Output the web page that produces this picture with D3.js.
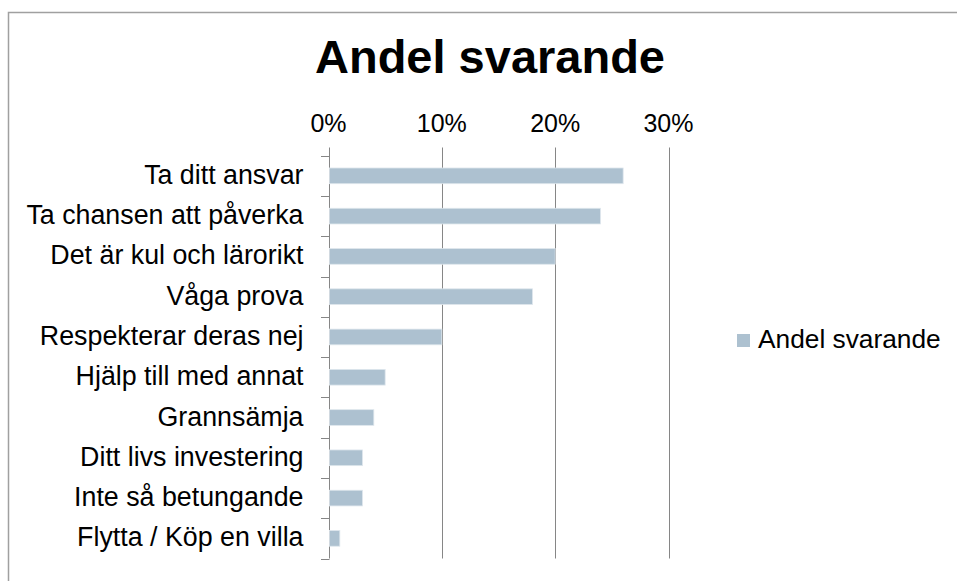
<!DOCTYPE html>
<html>
<head>
<meta charset="utf-8">
<script src="https://cdn.jsdelivr.net/npm/d3@7"></script>
<style>
  body { margin: 0; background: #fff; }
  svg { font-family: "Liberation Sans", Arial, sans-serif; }
</style>
</head>
<body>
<svg id="chart" width="957" height="581"></svg>
<script>
const categories = [
    "Ta ditt ansvar",
    "Ta chansen att påverka",
    "Det är kul och lärorikt",
    "Våga prova",
    "Respekterar deras nej",
    "Hjälp till med annat",
    "Grannsämja",
    "Ditt livs investering",
    "Inte så betungande",
    "Flytta / Köp en villa"
]
const values = [0.26, 0.24, 0.20, 0.18, 0.10, 0.05, 0.04, 0.03, 0.03, 0.01]
const ticks = [0, 0.1, 0.2, 0.3]
const seriesName = "Andel svarande"
const title = "Andel svarande"

const svg = d3.select("#chart")
const gridColor = "#868686"
const barColor = "#adc1d0"

// outer frame (runs off the right and bottom edge)
svg.append("rect")
    .attr("x", 8.5)
    .attr("y", 12.5)
    .attr("width", 1000)
    .attr("height", 1000)
    .attr("fill", "none")
    .attr("stroke", "#a0a0a0")
    .attr("stroke-width", 1.5)

const x = d3.scaleLinear()
    .domain([0, 0.3])
    .range([328.5, 668.5])

const y = d3.scaleBand()
    .domain(categories)
    .range([155.7, 558.5])
    .paddingInner(0.61)
    .paddingOuter(0.305)

const plotTop = 147.5
const plotBottom = y.range()[1]

// vertical grid lines, running a little above the plot like ticks
svg.append("g")
    .selectAll("line")
    .data(ticks)
    .join("line")
    .attr("x1", d => Math.round(x(d)) + 0.5)
    .attr("x2", d => Math.round(x(d)) + 0.5)
    .attr("y1", plotTop)
    .attr("y2", plotBottom)
    .attr("stroke", gridColor)
    .attr("stroke-width", 1)

// top axis labels
svg.append("g")
    .selectAll("text")
    .data(ticks)
    .join("text")
    .attr("x", d => x(d))
    .attr("y", 132)
    .attr("text-anchor", "middle")
    .attr("font-size", 25)
    .attr("fill", "#000")
    .text(d3.format(".0%"))

// category axis
const yAxis = d3.axisLeft(y)
    .tickSize(0)
    .tickPadding(26)

const yg = svg.append("g")
    .attr("transform", `translate(${Math.round(x(0)) + 0.5},0)`)
    .call(yAxis)
yg.select(".domain").remove()
yg.selectAll("text")
    .attr("font-size", 26.8)
    .attr("font-family", "Liberation Sans, Arial, sans-serif")
    .attr("fill", "#000")
    .attr("dy", "0.3em")

// category separators on the left
const bounds = categories.map(c => y(c) - y.step() * y.paddingInner() / 2)
bounds.push(plotBottom)
svg.append("g")
    .selectAll("line")
    .data(bounds)
    .join("line")
    .attr("x1", 321)
    .attr("x2", Math.round(x(0)) + 0.5)
    .attr("y1", d => Math.round(d) + 0.5)
    .attr("y2", d => Math.round(d) + 0.5)
    .attr("stroke", gridColor)
    .attr("stroke-width", 1)

// bars
svg.append("g")
    .selectAll("rect")
    .data(values)
    .join("rect")
    .attr("x", x(0) + 1)
    .attr("y", (d, i) => y(categories[i]))
    .attr("width", d => x(d) - x(0) - 1)
    .attr("height", y.bandwidth())
    .attr("fill", barColor)
    .attr("stroke", "#dfe7ed")
    .attr("stroke-width", 0.8)

// title
svg.append("text")
    .attr("x", 490)
    .attr("y", 73)
    .attr("text-anchor", "middle")
    .attr("font-size", 47)
    .attr("font-weight", "bold")
    .attr("fill", "#000")
    .text(title)

// legend
const legend = svg.append("g")
    .attr("transform", "translate(737,334)")
legend.append("rect")
    .attr("width", 13)
    .attr("height", 13)
    .attr("fill", barColor)
legend.append("text")
    .attr("x", 21)
    .attr("y", 14)
    .attr("font-size", 26.3)
    .attr("fill", "#000")
    .text(seriesName)
</script>
</body>
</html>
